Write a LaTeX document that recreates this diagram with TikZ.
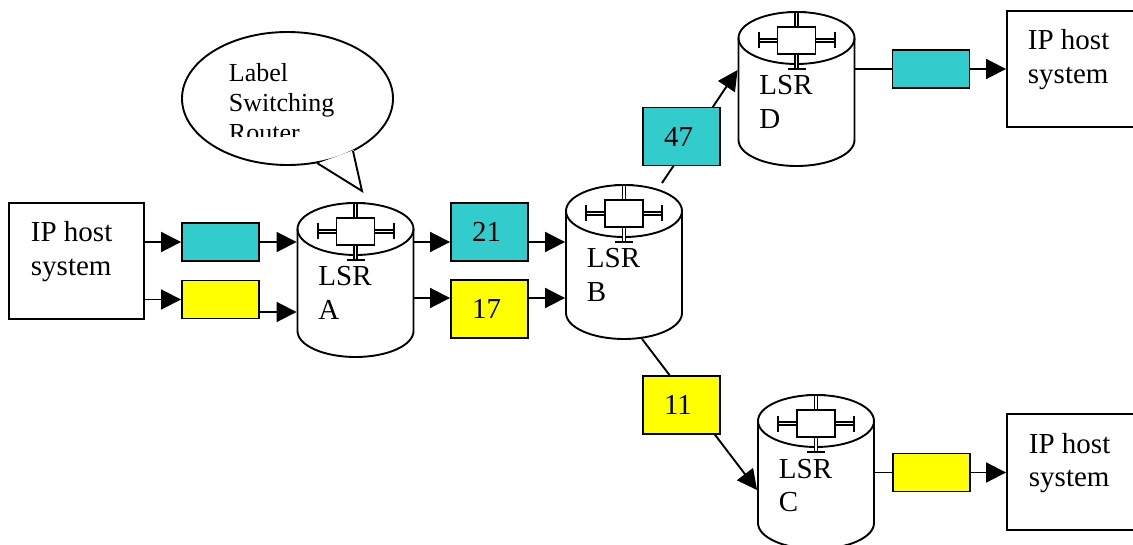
\documentclass[tikz,border=0pt]{standalone}
\usepackage{fontspec}
\setmainfont{Liberation Serif}
\usetikzlibrary{arrows.meta}
\definecolor{tagcyan}{HTML}{33CCCC}
\definecolor{tagyellow}{HTML}{FFFF00}
\begin{document}
\begin{tikzpicture}[x=1pt, y=-1pt, line width=1.9pt, >={Triangle[length=20pt,width=20pt]},
        font=\fontsize{29}{33.5}\selectfont]
        \tikzstyle{host}=[draw, shape=rectangle, minimum width=135pt, minimum height=116pt, inner sep=0pt]
        \tikzstyle{plaintext}=[anchor=base west, align=left, inner sep=0pt]
        \tikzstyle{tag}=[draw, shape=rectangle, minimum width=77pt, minimum height=38pt, inner sep=0pt]
        \tikzstyle{numtag}=[tag, minimum height=58pt, text width=35pt, align=left]
        \tikzstyle{lsrbody}=[shape=rectangle, minimum width=116pt, minimum height=102pt, inner sep=0pt]
        \tikzstyle{pipe}=[double, double distance=1.6pt, line width=1.3pt]

        \clip (0,0) rectangle (1133,545);

        % host systems (text anchored at the baseline of its last line)
        \node[host](hostL) at (76.5,261){};
        \node[plaintext](hostLtxt) at (30,275.5){IP host\\system};
        \node[host](hostD) at (1074.5,69){};
        \node[plaintext](hostDtxt) at (1027,83.5){IP host\\system};
        \node[host](hostC) at (1074.5,472){};
        \node[plaintext](hostCtxt) at (1028,486.5){IP host\\system};

        % label switching routers
        \foreach \n/\cx/\cy in {A/355.5/229, B/624/211, D/796.5/38, C/816/421}{
            \pgfmathsetmacro\sy{\cy+2.5}
            \node[lsrbody](lsr\n) at (\cx,\cy+51){};
            \draw (\cx-58,\cy) -- (\cx-58,\cy+102) arc[start angle=180, end angle=0, x radius=58, y radius=26] -- (\cx+58,\cy);
            \draw (\cx,\cy) ellipse [x radius=58, y radius=26];
            \draw[pipe] (\cx-19,\sy) -- (\cx-38,\sy);
            \draw[pipe] (\cx+19,\sy) -- (\cx+38,\sy);
            \draw[pipe] (\cx,\sy-13.5) -- (\cx,\sy-28.5);
            \draw[pipe] (\cx,\sy+13.5) -- (\cx,\sy+28.5);
            \draw[line width=1.7pt] (\cx-19,\sy-13.5) rectangle (\cx+19,\sy+13.5);
            \draw[line width=2pt] (\cx-38,\sy-8) -- (\cx-38,\sy+8) (\cx+38,\sy-8) -- (\cx+38,\sy+8)
                (\cx-9,\sy-28.5) -- (\cx+9,\sy-28.5) (\cx-9,\sy+28.5) -- (\cx+9,\sy+28.5);
            \node[plaintext](lsr\n-txt) at (\cx-38,\cy+90.5){LSR\\\n};
        }

        \draw[->] ([shift={(38,-27)}]lsrB.north) -- (lsrD.west |- 0,70);
        \draw[->] ([shift={(18,25)}]lsrB.south) -- (lsrC.west |- 0,490);

        % labels
        \node[tag, fill=tagcyan](cyanL) at (220.5,242){};
        \node[tag, fill=tagyellow](yellowL) at (220.5,299.5){};
        \node[numtag, fill=tagcyan](box21) at (489.5,232){21};
        \node[numtag, fill=tagyellow](box17) at (489.5,309){17};
        \node[numtag, fill=tagcyan](box47) at (681.5,136.5){47};
        \node[numtag, fill=tagyellow](box11) at (681.5,405){11};
        \node[tag, fill=tagcyan](cyanD) at (931,69){};
        \node[tag, fill=tagyellow](yellowC) at (931.5,472.5){};

        \draw[->] (hostL.east |- cyanL.west) -- (cyanL.west);
        \draw[->] (hostL.east |- yellowL.west) -- (yellowL.west);
        \draw[->] (cyanL.east) -- (cyanL.east -| lsrA.west);
        \draw[->] (yellowL.east |- 0,312) -- (lsrA.west |- 0,312);
        \draw[->] (lsrA.east |- 0,242) -- (box21.west |- 0,242);
        \draw[->] (lsrA.east |- 0,298) -- (box17.west |- 0,298);
        \draw[->] (box21.east |- 0,242) -- (lsrB.west |- 0,242);
        \draw[->] (box17.east |- 0,298) -- (lsrB.west |- 0,298);
        \draw (lsrD.east |- cyanD.west) -- (cyanD.west);
        \draw[->] (cyanD.east) -- (cyanD.east -| hostD.west);
        \draw (lsrC.east |- yellowC.west) -- (yellowC.west);
        \draw[->] (yellowC.east) -- (yellowC.east -| hostC.west);

        % callout
        \draw[fill=white] (287.5,98.5) ellipse [x radius=105.5, y radius=66.5];
        \fill[white] (316,164) -- (362,191) -- (354,150) -- cycle;
        \draw (317,163) -- (362,191) -- (353,151);
        \begin{scope}
            \clip (180,0) rectangle (400,137);
            \node[plaintext, font=\fontsize{26}{30}\selectfont](bubbletxt) at (228,142){Label\\Switching\\Router};
        \end{scope}

        \end{tikzpicture}
\end{document}
